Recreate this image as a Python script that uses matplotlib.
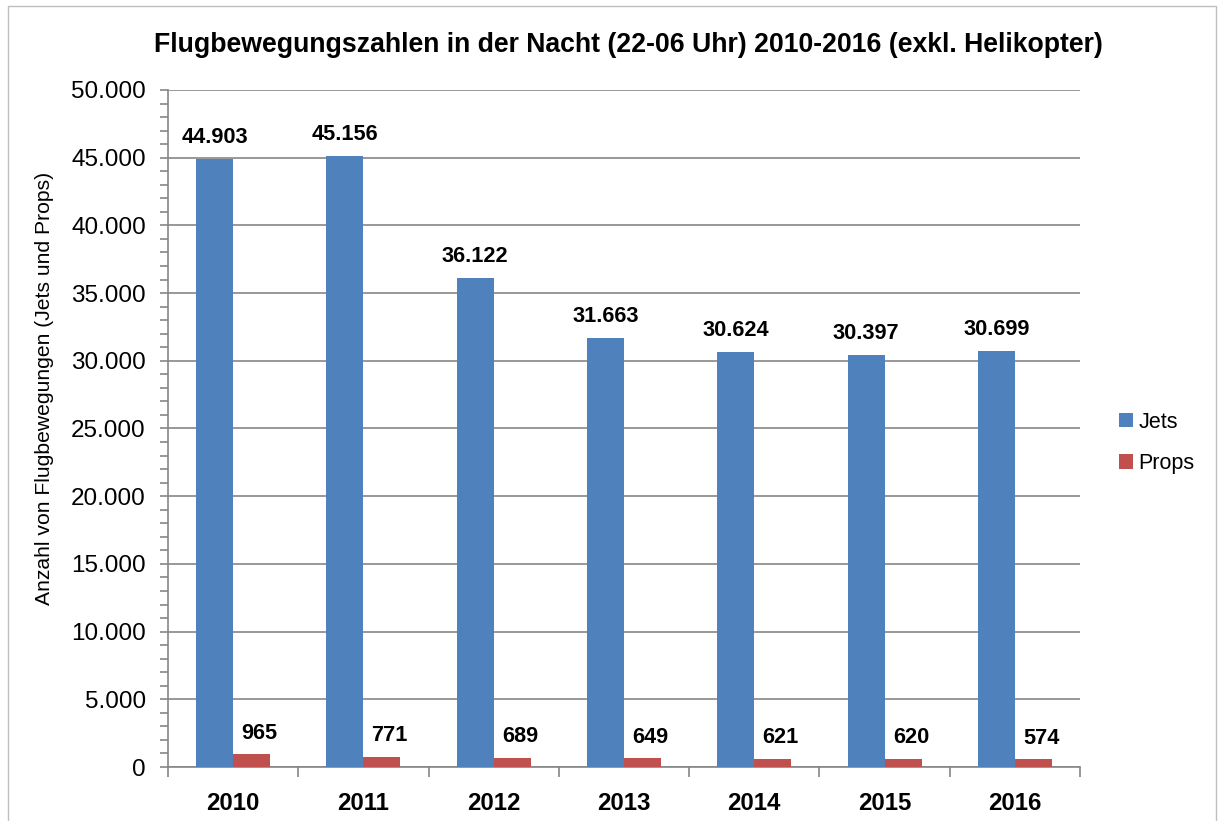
import numpy as np
import matplotlib
matplotlib.use("Agg")
import matplotlib.pyplot as plt
from matplotlib.patches import Rectangle
from matplotlib.ticker import MultipleLocator, FuncFormatter

years = ["2010", "2011", "2012", "2013", "2014", "2015", "2016"]
jets = [44903, 45156, 36122, 31663, 30624, 30397, 30699]
props = [965, 771, 689, 649, 621, 620, 574]

plt.rcParams['font.family'] = ['Liberation Sans', 'DejaVu Sans']

def de(v):
    return f"{v:,}".replace(",", ".")

fig = plt.figure(figsize=(12.18, 8.21), dpi=100)
fig.patches.append(Rectangle((8 / 1218, -0.05), 1208 / 1218, 1.05 - 6 / 821,
                             transform=fig.transFigure, fill=False,
                             edgecolor="#BFBFBF", linewidth=1.0))
ax = fig.add_axes([168 / 1218, 54 / 821, 912 / 1218, 677 / 821])

x = np.arange(len(years))
w = 0.284
b1 = ax.bar(x - w / 2, jets, w, color="#4F81BD", label="Jets", zorder=3)
b2 = ax.bar(x + w / 2, props, w, color="#C0504D", label="Props", zorder=3)

for xi, v in zip(x, jets):
    ax.annotate(de(v), (xi - w / 2, v), xytext=(0, 15.5), textcoords="offset points",
                ha="center", va="center", fontsize=15.7, fontweight="bold")
for xi, v in zip(x, props):
    ax.annotate(de(v), (xi + w / 2 + 0.06, v), xytext=(0, 15), textcoords="offset points",
                ha="center", va="center", fontsize=15.7, fontweight="bold")

ax.set_xlim(-0.5, len(years) - 0.5)
ax.set_ylim(0, 50000)
ax.yaxis.set_major_locator(MultipleLocator(5000))
ax.yaxis.set_minor_locator(MultipleLocator(1000))
ax.yaxis.set_major_formatter(FuncFormatter(lambda v, p: de(int(v))))
ax.grid(axis="y", color="#868686", linewidth=1.2, zorder=0)

ax.set_xticks(x)
ax.set_xticklabels(years, fontsize=17.3, fontweight="bold")
ax.set_xticks(np.arange(len(years) + 1) - 0.5, minor=True)
ax.tick_params(axis="x", which="major", length=0, pad=18)
ax.tick_params(axis="x", which="minor", length=7, color="#868686", width=1.2)
ax.tick_params(axis="y", which="both", length=6, color="#868686", width=1.2, labelsize=17.5, pad=10)

for s in ["top", "right"]:
    ax.spines[s].set_visible(False)
for s in ["left", "bottom"]:
    ax.spines[s].set_color("#868686")
    ax.spines[s].set_linewidth(1.2)

fig.text(45 / 1218, 1 - 388 / 821, "Anzahl von Flugbewegungen (Jets und Props)",
         rotation=90, ha="center", va="center", fontsize=15.2)
fig.text(628 / 1218, 1 - 45 / 821,
         "Flugbewegungszahlen in der Nacht (22-06 Uhr) 2010-2016 (exkl. Helikopter)",
         ha="center", va="center", fontsize=19.2, fontweight="bold")

fig.legend(handles=[b1, b2], labels=["Jets", "Props"], loc="center left",
           bbox_to_anchor=(1100 / 1218, 1 - 443 / 821), frameon=False,
           fontsize=15.5, handlelength=0.65, handleheight=0.65, handletextpad=0.25,
           labelspacing=0.95)

fig.savefig("out.png", dpi=100)
